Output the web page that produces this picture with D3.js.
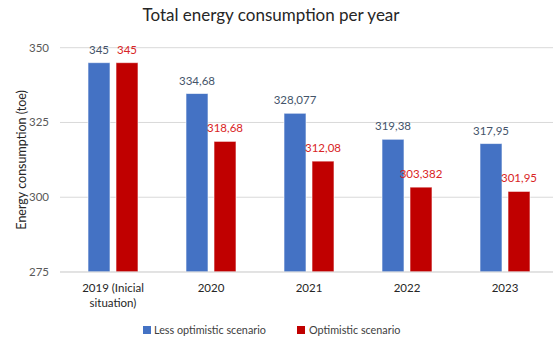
<!DOCTYPE html>
<html>
<head>
<meta charset="utf-8">
<script src="https://cdn.jsdelivr.net/npm/d3@7/dist/d3.min.js"></script>
<style>
  html, body { margin: 0; padding: 0; background: #fff; }
  svg { display: block; font-family: Lato, "Open Sans", sans-serif; }
</style>
</head>
<body>
<svg id="chart" width="553" height="338"></svg>
<script>
// Chart data
const categories = ["2019 (Inicial situation)", "2020", "2021", "2022", "2023"];
const categoryLines = [["2019 (Inicial", "situation)"], ["2020"], ["2021"], ["2022"], ["2023"]];
const lessOptimistic = [345, 334.68, 328.077, 319.38, 317.95];
const optimistic = [345, 318.68, 312.08, 303.382, 301.95];
const seriesNames = ["Less optimistic scenario", "Optimistic scenario"];
const yTicks = [275, 300, 325, 350];

const colors = ["#4472C4", "#C00000"];
const labelColors = ["#44546A", "#D92525"];

const svg = d3.select("#chart");

const x = d3.scaleBand().domain(categories).range([64, 554]);
const y = d3.scaleLinear().domain([275, 350]).range([272, 47.7]);

// Gridlines
svg.append("g").selectAll("line").data(yTicks).join("line")
  .attr("x1", 60).attr("x2", 553)
  .attr("y1", d => y(d)).attr("y2", d => y(d))
  .attr("stroke", "#d9d9d9").attr("stroke-width", 1);

// Y tick labels
svg.append("g").selectAll("text").data(yTicks).join("text")
  .attr("x", 49).attr("y", d => y(d) + 4)
  .attr("text-anchor", "end")
  .attr("font-size", 11.5).attr("fill", "#595959")
  .text(d => d);

// Title
svg.append("text")
  .attr("x", 271).attr("y", 21)
  .attr("text-anchor", "middle")
  .attr("font-size", 17).attr("fill", "#262626")
  .text("Total energy consumption per year");

// Y axis title
svg.append("text")
  .attr("transform", `translate(26,${(47.7 + 272) / 2}) rotate(-90)`)
  .attr("text-anchor", "middle")
  .attr("font-size", 12.5).attr("fill", "#262626")
  .text("Energy consumption (toe)");

const barW = 22, gap = 6;
const series = [lessOptimistic, optimistic];
const fmt = v => String(v).replace(".", ",");

series.forEach((vals, si) => {
  const offset = si === 0 ? -(barW + gap / 2) : gap / 2;
  const g = svg.append("g");
  g.selectAll("rect").data(vals).join("rect")
    .attr("x", (d, i) => x(categories[i]) + x.bandwidth() / 2 + offset)
    .attr("y", d => y(d))
    .attr("width", barW)
    .attr("height", d => y(275) - y(d))
    .attr("fill", colors[si])
    .attr("stroke", "#ffffff").attr("stroke-opacity", 0.6).attr("stroke-width", 1);
  g.selectAll("text").data(vals).join("text")
    .attr("x", (d, i) => x(categories[i]) + x.bandwidth() / 2 + offset + barW / 2)
    .attr("y", d => y(d) - 9)
    .attr("text-anchor", "middle")
    .attr("font-size", 11.5).attr("fill", labelColors[si])
    .text(d => fmt(d));
});

// Baseline
svg.append("line")
  .attr("x1", 60).attr("x2", 553)
  .attr("y1", y(275)).attr("y2", y(275))
  .attr("stroke", "#d9d9d9");

// Category labels
const cat = svg.append("g").selectAll("text").data(categories).join("text")
  .attr("x", d => x(d) + x.bandwidth() / 2)
  .attr("y", 292)
  .attr("text-anchor", "middle")
  .attr("font-size", 11.5).attr("fill", "#262626");
cat.each(function(d, i) {
  d3.select(this).selectAll("tspan").data(categoryLines[i]).join("tspan")
    .attr("x", x(d) + x.bandwidth() / 2)
    .attr("dy", (t, j) => j === 0 ? 0 : 15)
    .text(t => t);
});

// Legend
const legendItems = [{ x: 143, name: seriesNames[0], c: colors[0] }, { x: 297, name: seriesNames[1], c: colors[1] }];
const lg = svg.append("g");
legendItems.forEach((it, i) => {
  lg.append("rect").attr("x", it.x).attr("y", 326).attr("width", 8).attr("height", 8).attr("fill", it.c);
  lg.append("text").attr("x", it.x + (i === 0 ? 11 : 12)).attr("y", 334)
    .attr("font-size", 10.8).attr("fill", "#404040").text(it.name);
});
</script>
</body>
</html>
